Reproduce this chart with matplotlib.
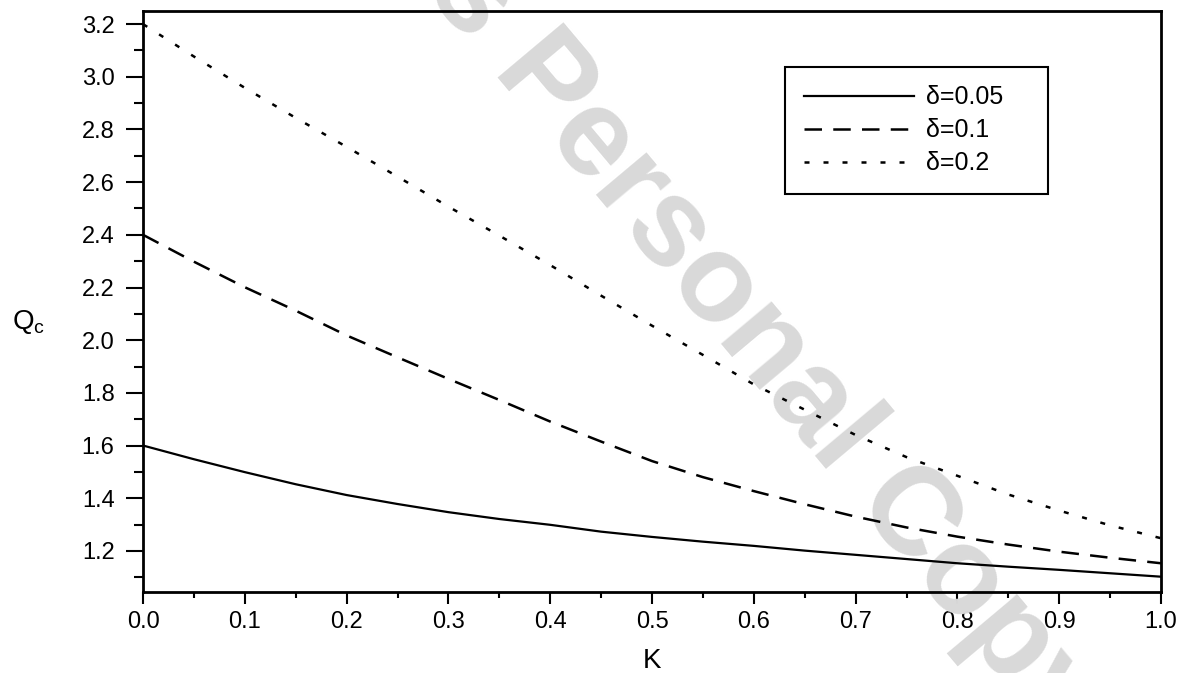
import matplotlib
matplotlib.use('Agg')
import matplotlib.pyplot as plt
from matplotlib.ticker import MultipleLocator

plt.rcParams['font.family'] = ['Liberation Sans', 'DejaVu Sans']
plt.rcParams['mathtext.fontset'] = 'custom'
plt.rcParams['mathtext.rm'] = 'Liberation Sans'

# data
K = [0.0, 0.05, 0.1, 0.15, 0.2, 0.25, 0.3, 0.35, 0.4, 0.45, 0.5,
     0.55, 0.6, 0.65, 0.7, 0.75, 0.8, 0.85, 0.9, 0.95, 1.0]
qc_d005 = [1.600, 1.548, 1.499, 1.453, 1.412, 1.378, 1.347, 1.321, 1.299, 1.273, 1.253,
           1.235, 1.219, 1.201, 1.185, 1.169, 1.153, 1.140, 1.128, 1.115, 1.102]
qc_d01 = [2.400, 2.298, 2.201, 2.112, 2.018, 1.935, 1.853, 1.773, 1.691, 1.615, 1.541,
          1.480, 1.427, 1.377, 1.330, 1.289, 1.254, 1.224, 1.197, 1.174, 1.153]
qc_d02 = [3.200, 3.077, 2.958, 2.844, 2.734, 2.621, 2.507, 2.397, 2.285, 2.169, 2.055,
          1.944, 1.832, 1.736, 1.640, 1.556, 1.485, 1.414, 1.353, 1.297, 1.248]
labels = ['δ=0.05', 'δ=0.1', 'δ=0.2']

fig = plt.figure(figsize=(11.93, 6.73), dpi=100)
ax = fig.add_axes([0.1199, 0.1204, 0.8533, 0.8633])

ax.plot(K, qc_d005, color='black', lw=1.6, ls='-', label=labels[0], zorder=3)
ax.plot(K, qc_d01, color='black', lw=1.8, ls=(0, (7, 4.5)), label=labels[1], zorder=3)
ax.plot(K, qc_d02, color='black', lw=1.8, ls=(0, (2.0, 5.6)), label=labels[2], zorder=3)

ax.set_xlim(0, 1.0)
ax.set_ylim(1.044, 3.25)
ax.xaxis.set_major_locator(MultipleLocator(0.1))
ax.xaxis.set_minor_locator(MultipleLocator(0.05))
ax.yaxis.set_major_locator(MultipleLocator(0.2))
ax.yaxis.set_minor_locator(MultipleLocator(0.1))
ax.xaxis.set_major_formatter(lambda v, p: f'{v:.1f}')
ax.yaxis.set_major_formatter(lambda v, p: f'{v:.1f}')

ax.tick_params(axis='x', which='major', direction='out', length=8.5, width=1.5, pad=5.5, labelsize=17)
ax.tick_params(axis='x', which='minor', direction='out', length=4.5, width=1.5)
ax.tick_params(axis='y', which='major', direction='out', length=12, width=1.5, pad=8.5, labelsize=17)
ax.tick_params(axis='y', which='minor', direction='out', length=6.5, width=1.5)
for s in ax.spines.values():
    s.set_linewidth(2.0)
    s.set_zorder(3)

ax.set_xlabel('K', fontsize=20)
ax.xaxis.set_label_coords(0.5, -0.096)
ax.xaxis.label.set_va('top')
ax.set_ylabel(r'Q$_\mathregular{c}$', fontsize=20, rotation=0, ha='left', va='center')
ax.yaxis.set_label_coords(-0.1287, 0.4647)

leg = ax.legend(loc='upper left', bbox_to_anchor=(0.631, 0.685, 0.258, 0.2186),
                mode='expand', fontsize=18, handlelength=4.4, handletextpad=0.48,
                borderpad=0.74, labelspacing=0.36, fancybox=False, framealpha=1,
                edgecolor='black', borderaxespad=0)
leg.get_frame().set_linewidth(1.5)

# watermark over the scan
ax.text(622, 673 - 177, "Author's Personal Copy", transform=None, fontsize=90,
        fontweight='bold', color='#d9d9d9', rotation=-50, rotation_mode='anchor',
        ha='center', va='center', clip_on=False, zorder=1.8)

fig.savefig('out.png', dpi=100)
